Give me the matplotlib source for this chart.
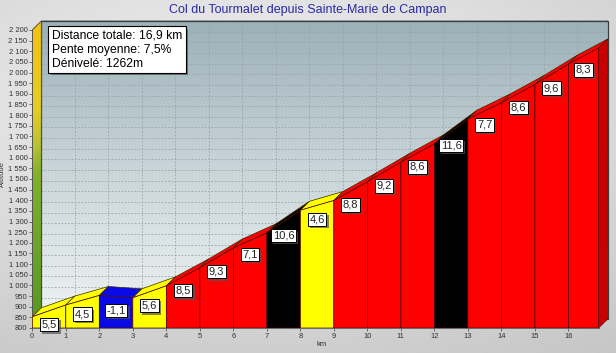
import numpy as np
import matplotlib.pyplot as plt
import matplotlib.patheffects as pe
from matplotlib.patches import Polygon, Rectangle
from matplotlib.colors import LinearSegmentedColormap

plt.rcParams['font.family'] = ['Liberation Sans', 'DejaVu Sans']

# profil : bornes kilométriques et altitudes
km = [0, 1, 2, 3, 4, 5, 6, 7, 8, 9, 10, 11, 12, 13, 14, 15, 16, 16.9]
altitudes = [853, 908, 953, 942, 998, 1083, 1176, 1247, 1353, 1399,
             1487, 1579, 1665, 1781, 1858, 1944, 2040, 2115]
pentes = [5.5, 4.5, -1.1, 5.6, 8.5, 9.3, 7.1, 10.6, 4.6, 8.8,
          9.2, 8.6, 11.6, 7.7, 8.6, 9.6, 8.3]
etiquettes = ['5,5', '4,5', '-1,1', '5,6', '8,5', '9,3', '7,1', '10,6', '4,6', '8,8',
              '9,2', '8,6', '11,6', '7,7', '8,6', '9,6', '8,3']
xticks = list(range(17))
yticks = list(range(800, 2201, 50))

titre = "Col du Tourmalet depuis Sainte-Marie de Campan"
infos = "Distance totale: 16,9 km\nPente moyenne: 7,5%\nDénivelé: 1262m"


def couleur(p):
    if p < 0:
        return '#0a0ae6'
    if p < 6:
        return '#ffff00'
    if p < 10:
        return '#ff0000'
    return '#000000'


# profondeur de l'effet 3D (en unités de données)
dx, dy = 0.27, 42
xmax = km[-1]
ombre = [pe.withSimplePatchShadow(offset=(1.6, -1.6), shadow_rgbFace='#555555', alpha=0.7)]

fig = plt.figure(figsize=(6.16, 3.53), dpi=100)

# fond gris dégradé
bg = fig.add_axes([0, 0, 1, 1], zorder=-10)
yy, xx = np.mgrid[0:1:200j, 0:1:300j]
r = np.sqrt(((xx - 0.4) * 1.0) ** 2 + ((yy - 0.3) * 1.2) ** 2)
bg.imshow(0.95 - 0.17 * r, cmap='gray', vmin=0, vmax=1, aspect='auto', extent=[0, 1, 0, 1])
bg.axis('off')

ax = fig.add_axes([32.3 / 616, 25 / 353, 578 / 616, 308.7 / 353])
ax.patch.set_alpha(0)

# mur du fond
cm_fond = LinearSegmentedColormap.from_list('fond', ['#9cb1b8', '#c9d5d9', '#eef2f3'])
ax.imshow(np.linspace(0, 1, 100)[:, None], cmap=cm_fond, aspect='auto',
          extent=[dx, xmax + dx, 800 + dy, 2200 + dy], zorder=0)
for y in yticks[1:]:
    ax.plot([dx, xmax + dx], [y + dy, y + dy], color='#98a3a8', lw=0.6, ls=(0, (2, 2)), zorder=1)
for k in xticks[1:]:
    ax.plot([k + dx, k + dx], [800 + dy, 2200 + dy], color='#98a3a8', lw=0.6, ls=(0, (2, 2)), zorder=1)
ax.add_patch(Rectangle((dx, 800 + dy), xmax, 1400, fill=False, ec='#3c3c3c', lw=0.9, zorder=1))

# mur de gauche (dégradé or -> vert), en tranches
cm_gauche = LinearSegmentedColormap.from_list(
    'gauche', [(0, '#559620'), (0.5, '#80b02a'), (0.6, '#bcc232'), (0.72, '#e6cc1e'), (1, '#f2c20e')])
niveaux = np.linspace(800, 2200, 71)
for a, b in zip(niveaux[:-1], niveaux[1:]):
    c = cm_gauche((a - 800) / 1400)
    ax.add_patch(Polygon([(0, a), (0, b), (dx, b + dy), (dx, a + dy)], closed=True,
                         fc=c, ec=c, lw=0.3, zorder=1.5))
ax.add_patch(Polygon([(0, 800), (0, 2200), (dx, 2200 + dy), (dx, 800 + dy)], closed=True,
                     fc='none', ec='#404040', lw=0.6, zorder=2))

# bandes supérieures
for i, p in enumerate(pentes):
    x0, x1 = km[i], km[i + 1]
    h0, h1 = altitudes[i], altitudes[i + 1]
    ax.add_patch(Polygon([(x0, h0), (x1, h1), (x1 + dx, h1 + dy), (x0 + dx, h0 + dy)],
                         closed=True, fc=couleur(p), ec='#3a2a00', lw=0.5, zorder=3))

# face de droite
ax.add_patch(Polygon([(xmax, 800), (xmax, altitudes[-1]), (xmax + dx, altitudes[-1] + dy),
                      (xmax + dx, 800 + dy)], closed=True, fc='#c80000', ec='#700000', lw=0.5, zorder=3))

# faces avant
for i, p in enumerate(pentes):
    x0, x1 = km[i], km[i + 1]
    h0, h1 = altitudes[i], altitudes[i + 1]
    ax.add_patch(Polygon([(x0, 800), (x0, h0), (x1, h1), (x1, 800)],
                         closed=True, fc=couleur(p), ec='#500000', lw=0.5, zorder=4))

# étiquettes de pente
for i, lab in enumerate(etiquettes):
    xm = (km[i] + km[i + 1]) / 2
    hm = (altitudes[i] + altitudes[i + 1]) / 2
    t = ax.annotate(lab, xy=(xm, hm), xytext=(0, -10), textcoords='offset points',
                    ha='center', va='center', fontsize=8, color='#222222', zorder=6,
                    bbox=dict(boxstyle='square,pad=0.15', fc='white', ec='black', lw=0.7))
    t.get_bbox_patch().set_path_effects(ombre)

ax.set_xlim(0, 17.25)
ax.set_ylim(800, 2250)
ax.set_xticks(xticks)
ax.set_yticks(yticks)
ax.set_yticklabels([f"{v:,}".replace(',', ' ') for v in yticks])
ax.tick_params(axis='both', labelsize=5.5, labelcolor='#333333', color='#555555',
               length=2, width=0.6, pad=1.5)
ax.set_xlabel('km', fontsize=5.5, color='#333333', labelpad=1)
ax.set_ylabel('Altitude', fontsize=5.5, color='#333333', labelpad=2)
for s in ['top', 'right']:
    ax.spines[s].set_visible(False)
ax.spines['left'].set_bounds(800, 2200)
ax.spines['bottom'].set_bounds(0, xmax)
for s in ['left', 'bottom']:
    ax.spines[s].set_color('#555555')
    ax.spines[s].set_linewidth(0.6)

# boîte d'informations
t = fig.text(52 / 616, 1 - 30 / 353, infos, fontsize=8.7, ha='left', va='top', color='black',
             linespacing=1.2, zorder=8,
             bbox=dict(boxstyle='square,pad=0.3', fc='white', ec='black', lw=0.8))
t.get_bbox_patch().set_path_effects(ombre)

fig.text(0.5, 1 - 10 / 353, titre, fontsize=9, color='#2a2aa6', ha='center', va='center')

plt.savefig('out.png', dpi=100)
